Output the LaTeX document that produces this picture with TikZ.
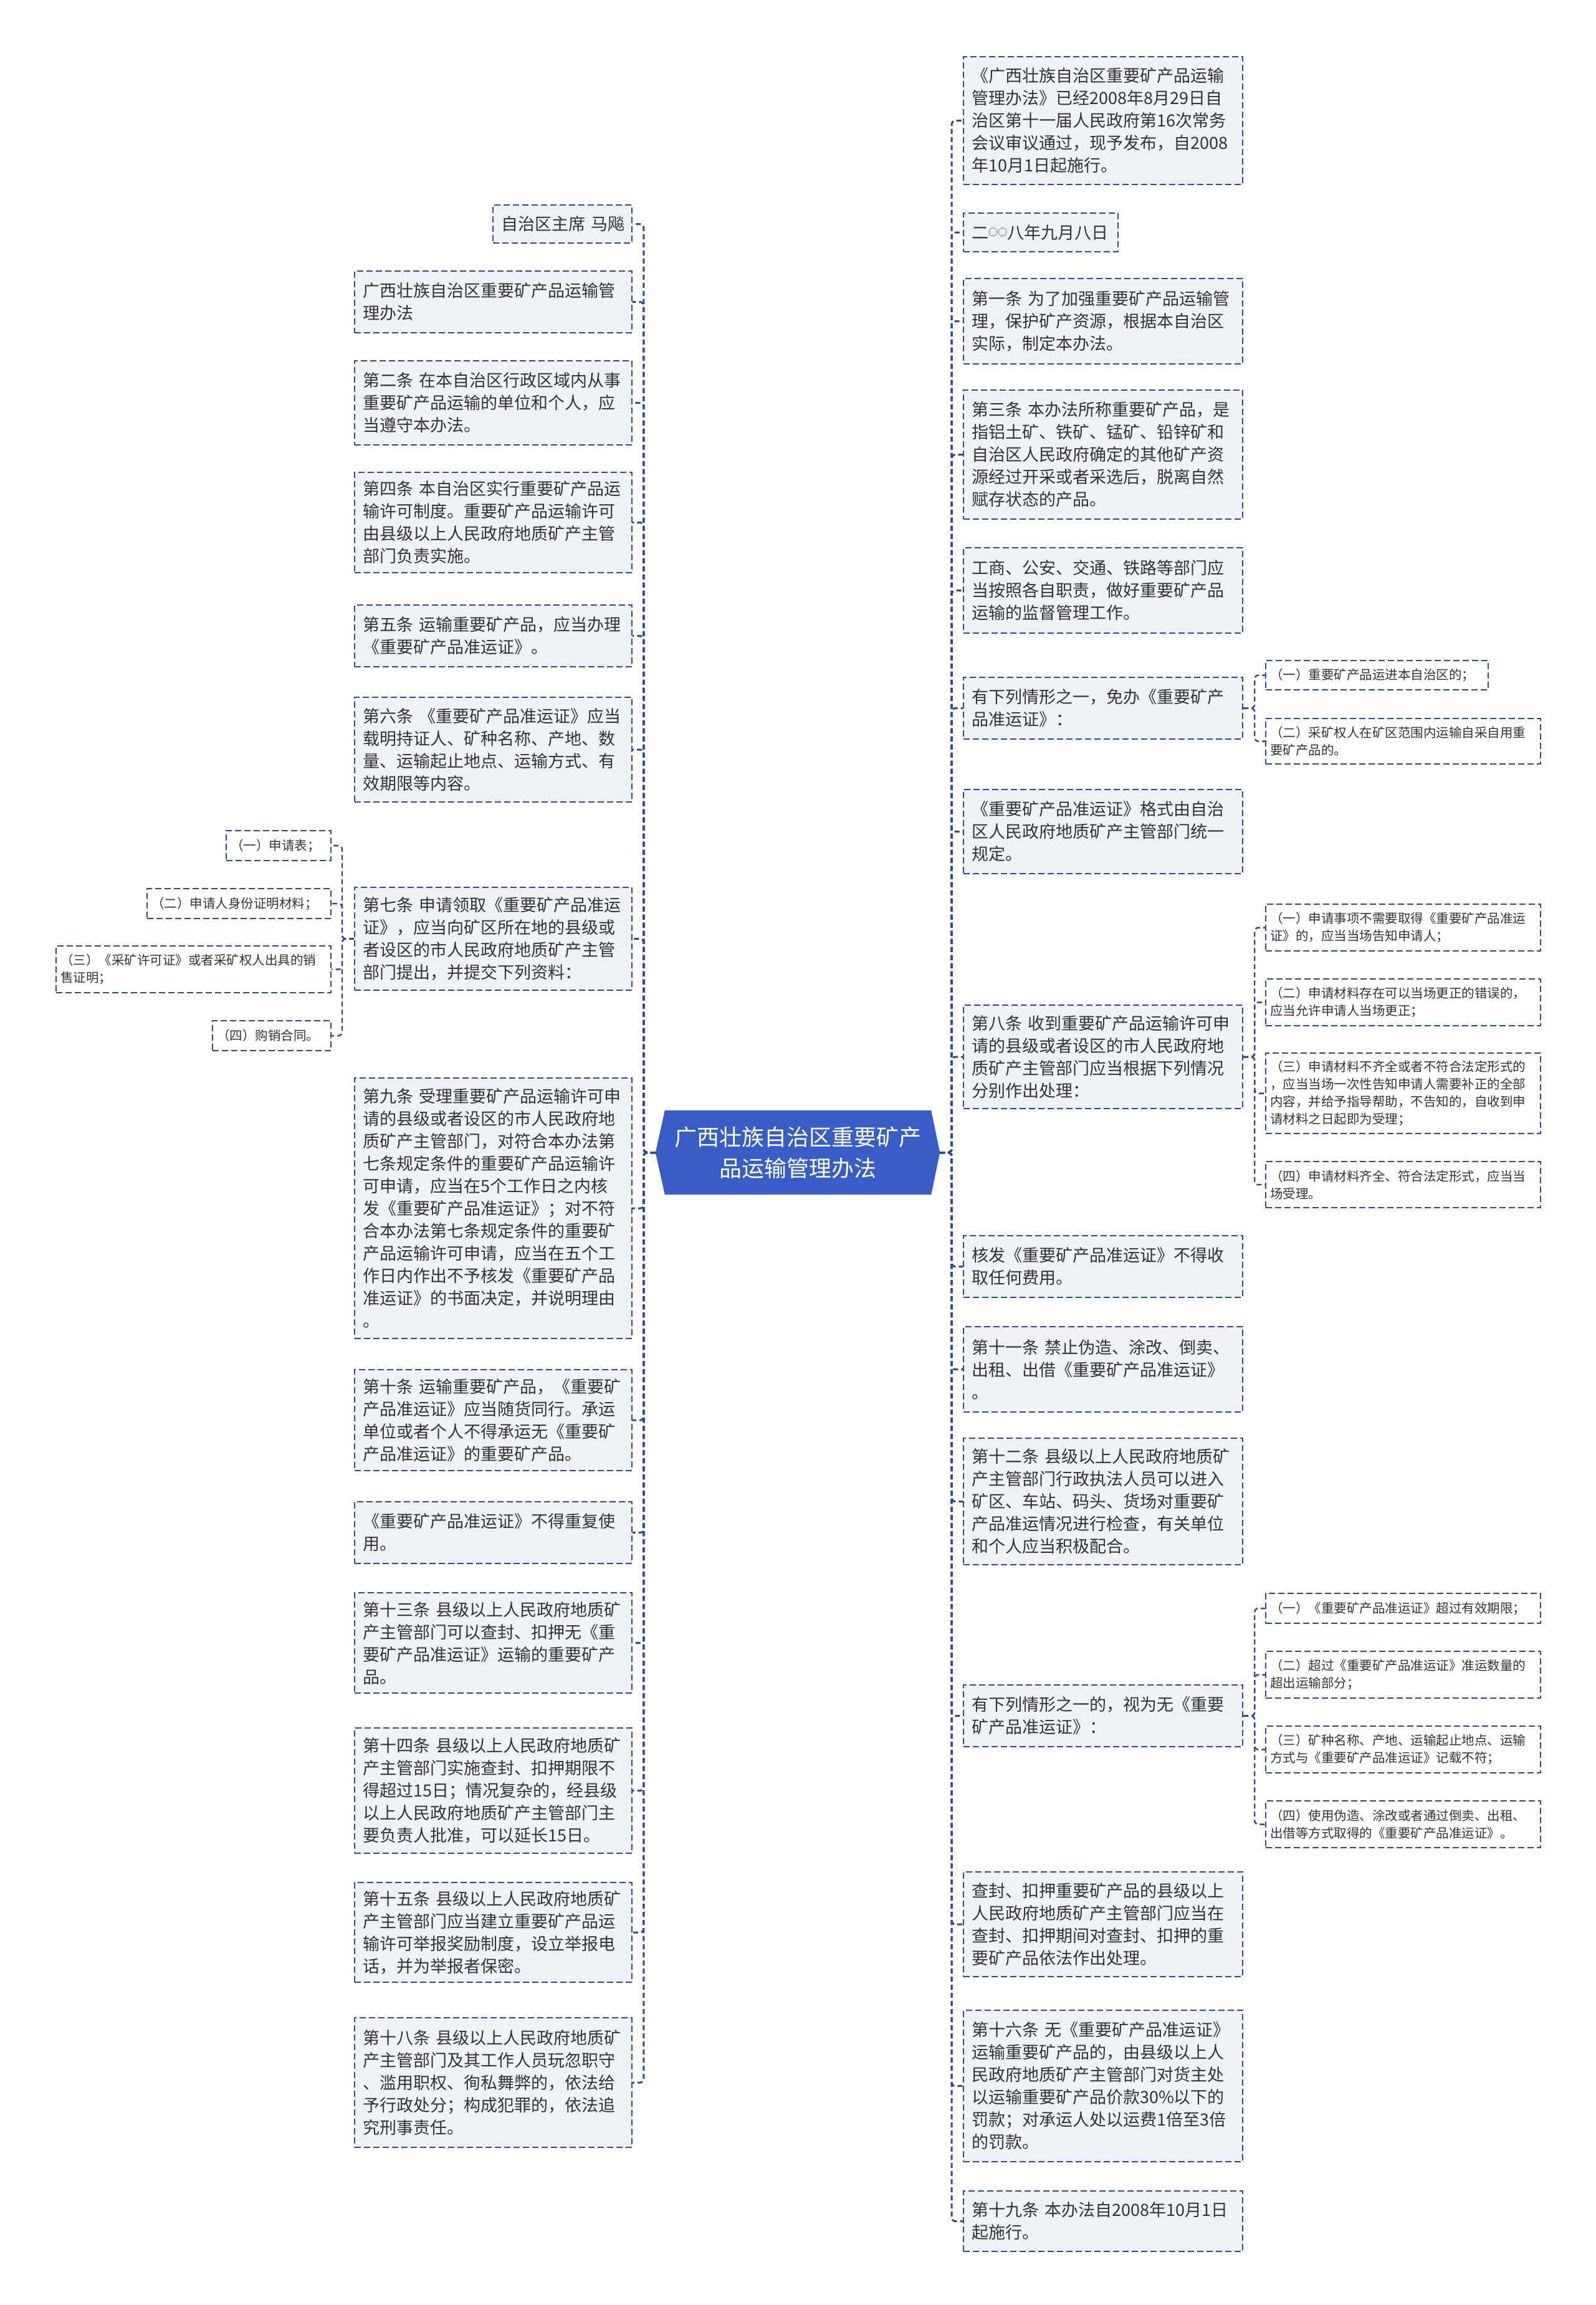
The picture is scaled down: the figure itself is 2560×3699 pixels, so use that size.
\documentclass[tikz,border=0pt]{standalone}
\usepackage{fontspec}
\setmainfont{Noto Sans CJK SC}
\usetikzlibrary{backgrounds}
\definecolor{linec}{RGB}{44,72,150}
\definecolor{boxfill}{RGB}{238,241,246}
\definecolor{rootfill}{RGB}{58,92,198}
\definecolor{txt}{RGB}{51,51,51}
\newcommand\mainf{\fontsize{27}{36}\selectfont}
\newcommand\leaff{\fontsize{20.5}{28}\selectfont}
\newcommand\rootf{\fontsize{36}{50}\selectfont}
\tikzset{
  box/.style={draw=linec, line width=2.2pt, dash pattern=on 10pt off 5pt, fill=boxfill,
    anchor=north west, inner xsep=13pt, inner ysep=0pt, align=left, font=\mainf, text=txt},
  leaf/.style={box, fill=white, font=\leaff, inner xsep=7pt},
  conn/.style={draw=linec, line width=3pt, dash pattern=on 8pt off 5pt, rounded corners=6pt},
  subconn/.style={conn, line width=2.4pt},
  rootnode/.style={minimum width=456pt, minimum height=135pt, inner sep=0pt, text=white,
    align=center, font=\rootf},
}
\newcommand\LB[4]{\node[box,text width=419pt,minimum height=#3pt] (#1) at (568,#2) {#4};}
\newcommand\RB[4]{\node[box,text width=422pt,minimum height=#3pt] (#1) at (1545,#2) {#4};}
\newcommand\LF[6]{\node[leaf,text width=#4pt,minimum height=#5pt] (#1) at (#2,#3) {#6};}
\newcommand\smallo{\raisebox{4.5pt}{\fontsize{15}{36}\selectfont ○○}}
\begin{document}
\begin{tikzpicture}[x=1pt,y=-1pt]
\useasboundingbox (0,0) rectangle (2560,3699);

% root
\node[rootnode] (root) at (1280,1849.5) {广西壮族自治区重要矿产\\品运输管理办法};

% left branch
\node[box,text width=197pt,minimum height=61pt] (L0) at (790,328) {自治区主席~马飚};
\LB{L1}{434}{99}{广西壮族自治区重要矿产品运输管\\理办法}
\LB{L2}{578}{135}{第二条~在本自治区行政区域内从事\\重要矿产品运输的单位和个人，应\\当遵守本办法。}
\LB{L3}{757}{161}{第四条~本自治区实行重要矿产品运\\输许可制度。重要矿产品运输许可\\由县级以上人民政府地质矿产主管\\部门负责实施。}
\LB{L4}{970}{99}{第五条~运输重要矿产品，应当办理\\《重要矿产品准运证》。}
\LB{L5}{1118}{168}{第六条~《重要矿产品准运证》应当\\载明持证人、矿种名称、产地、数\\量、运输起止地点、运输方式、有\\效期限等内容。}
\LB{L6}{1423}{165}{第七条~申请领取《重要矿产品准运\\证》，应当向矿区所在地的县级或\\者设区的市人民政府地质矿产主管\\部门提出，并提交下列资料：}
\LB{L7}{1729}{418}{第九条~受理重要矿产品运输许可申\\请的县级或者设区的市人民政府地\\质矿产主管部门，对符合本办法第\\七条规定条件的重要矿产品运输许\\可申请，应当在5个工作日之内核\\发《重要矿产品准运证》；对不符\\合本办法第七条规定条件的重要矿\\产品运输许可申请，应当在五个工\\作日内作出不予核发《重要矿产品\\准运证》的书面决定，并说明理由\\。}
\LB{L8}{2197}{162}{第十条~运输重要矿产品，《重要矿\\产品准运证》应当随货同行。承运\\单位或者个人不得承运无《重要矿\\产品准运证》的重要矿产品。}
\LB{L9}{2409}{99}{《重要矿产品准运证》不得重复使\\用。}
\LB{L10}{2555}{161}{第十三条~县级以上人民政府地质矿\\产主管部门可以查封、扣押无《重\\要矿产品准运证》运输的重要矿产\\品。}
\LB{L11}{2772}{201}{第十四条~县级以上人民政府地质矿\\产主管部门实施查封、扣押期限不\\得超过15日；情况复杂的，经县级\\以上人民政府地质矿产主管部门主\\要负责人批准，可以延长15日。}
\LB{L12}{3020}{160}{第十五条~县级以上人民政府地质矿\\产主管部门应当建立重要矿产品运\\输许可举报奖励制度，设立举报电\\话，并为举报者保密。}
\LB{L13}{3237}{208}{第十八条~县级以上人民政府地质矿\\产主管部门及其工作人员玩忽职守\\、滥用职权、徇私舞弊的，依法给\\予行政处分；构成犯罪的，依法追\\究刑事责任。}

% children of L6
\LF{D1}{362}{1332}{154}{48}{（一）申请表；}
\LF{D2}{235}{1425}{281}{48}{（二）申请人身份证明材料；}
\LF{D3}{89}{1517}{427}{75}{（三）《采矿许可证》或者采矿权人出具的销\\售证明；}
\LF{D4}{340}{1637}{176}{48}{（四）购销合同。}

% right branch
\RB{R0}{90}{205}{《广西壮族自治区重要矿产品运输\\管理办法》已经2008年8月29日自\\治区第十一届人民政府第16次常务\\会议审议通过，现予发布，自2008\\年10月1日起施行。}
\node[box,text width=222pt,minimum height=62pt] (R1) at (1545,341) {二\smallo 八年九月八日};
\RB{R2}{446}{137}{第一条~为了加强重要矿产品运输管\\理，保护矿产资源，根据本自治区\\实际，制定本办法。}
\RB{R3}{625}{207}{第三条~本办法所称重要矿产品，是\\指铝土矿、铁矿、锰矿、铅锌矿和\\自治区人民政府确定的其他矿产资\\源经过开采或者采选后，脱离自然\\赋存状态的产品。}
\RB{R4}{878}{137}{工商、公安、交通、铁路等部门应\\当按照各自职责，做好重要矿产品\\运输的监督管理工作。}
\RB{R5}{1086}{99}{有下列情形之一，免办《重要矿产\\品准运证》：}
\RB{R6}{1266}{135}{《重要矿产品准运证》格式由自治\\区人民政府地质矿产主管部门统一\\规定。}
\RB{R7}{1612}{166}{第八条~收到重要矿产品运输许可申\\请的县级或者设区的市人民政府地\\质矿产主管部门应当根据下列情况\\分别作出处理：}
\RB{R8}{1982}{99}{核发《重要矿产品准运证》不得收\\取任何费用。}
\RB{R9}{2128}{137}{第十一条~禁止伪造、涂改、倒卖、\\出租、出借《重要矿产品准运证》\\。}
\RB{R10}{2307}{203}{第十二条~县级以上人民政府地质矿\\产主管部门行政执法人员可以进入\\矿区、车站、码头、货场对重要矿\\产品准运情况进行检查，有关单位\\和个人应当积极配合。}
\RB{R11}{2703}{99}{有下列情形之一的，视为无《重要\\矿产品准运证》：}
\RB{R12}{3003}{168}{查封、扣押重要矿产品的县级以上\\人民政府地质矿产主管部门应当在\\查封、扣押期间对查封、扣押的重\\要矿产品依法作出处理。}
\RB{R13}{3225}{243}{第十六条~无《重要矿产品准运证》\\运输重要矿产品的，由县级以上人\\民政府地质矿产主管部门对货主处\\以运输重要矿产品价款30\%以下的\\罚款；对承运人处以运费1倍至3倍\\的罚款。}
\RB{R14}{3515}{97}{第十九条~本办法自2008年10月1日\\起施行。}

% children of R5
\LF{A1}{2030}{1059}{343}{47}{（一）重要矿产品运进本自治区的；}
\LF{A2}{2030}{1152}{427}{73}{（二）采矿权人在矿区范围内运输自采自用重\\要矿产品的。}
% children of R7
\LF{B1}{2030}{1450}{427}{75}{（一）申请事项不需要取得《重要矿产品准运\\证》的，应当当场告知申请人；}
\LF{B2}{2030}{1570}{427}{75}{（二）申请材料存在可以当场更正的错误的，\\应当允许申请人当场更正；}
\LF{B3}{2030}{1689}{427}{129}{（三）申请材料不齐全或者不符合法定形式的\\，应当当场一次性告知申请人需要补正的全部\\内容，并给予指导帮助，不告知的，自收到申\\请材料之日起即为受理；}
\LF{B4}{2030}{1863}{427}{74}{（四）申请材料齐全、符合法定形式，应当当\\场受理。}
% children of R11
\LF{C1}{2030}{2556}{427}{48}{（一）《重要矿产品准运证》超过有效期限；}
\LF{C2}{2030}{2649}{427}{75}{（二）超过《重要矿产品准运证》准运数量的\\超出运输部分；}
\LF{C3}{2030}{2769}{427}{75}{（三）矿种名称、产地、运输起止地点、运输\\方式与《重要矿产品准运证》记载不符；}
\LF{C4}{2030}{2889}{427}{75}{（四）使用伪造、涂改或者通过倒卖、出租、\\出借等方式取得的《重要矿产品准运证》。}

% connectors
\foreach \n in {L0,L1,L2,L3,L4,L5,L6,L7,L8,L9,L10,L11,L12,L13}
  \draw[conn] (root.west) -- ++(-19,0) |- (\n.east);
\foreach \n in {R0,R1,R2,R3,R4,R5,R6,R7,R8,R9,R10,R11,R12,R13,R14}
  \draw[conn] (root.east) -- ++(19,0) |- (\n.west);
\foreach \n in {D1,D2,D3,D4}
  \draw[subconn] (L6.west) -- ++(-19,0) |- (\n.east);
\foreach \n in {A1,A2}
  \draw[subconn] (R5.east) -- ++(18,0) |- (\n.west);
\foreach \n in {B1,B2,B3,B4}
  \draw[subconn] (R7.east) -- ++(18,0) |- (\n.west);
\foreach \n in {C1,C2,C3,C4}
  \draw[subconn] (R11.east) -- ++(18,0) |- (\n.west);

\begin{scope}[on background layer]
  \fill[white] (0,0) rectangle (2560,3699);
  \fill[rootfill] (root.west) -- ([xshift=15pt]root.north west) -- ([xshift=-14pt]root.north east)
    -- (root.east) -- ([xshift=-14pt]root.south east) -- ([xshift=15pt]root.south west) -- cycle;
\end{scope}
\end{tikzpicture}
\end{document}
